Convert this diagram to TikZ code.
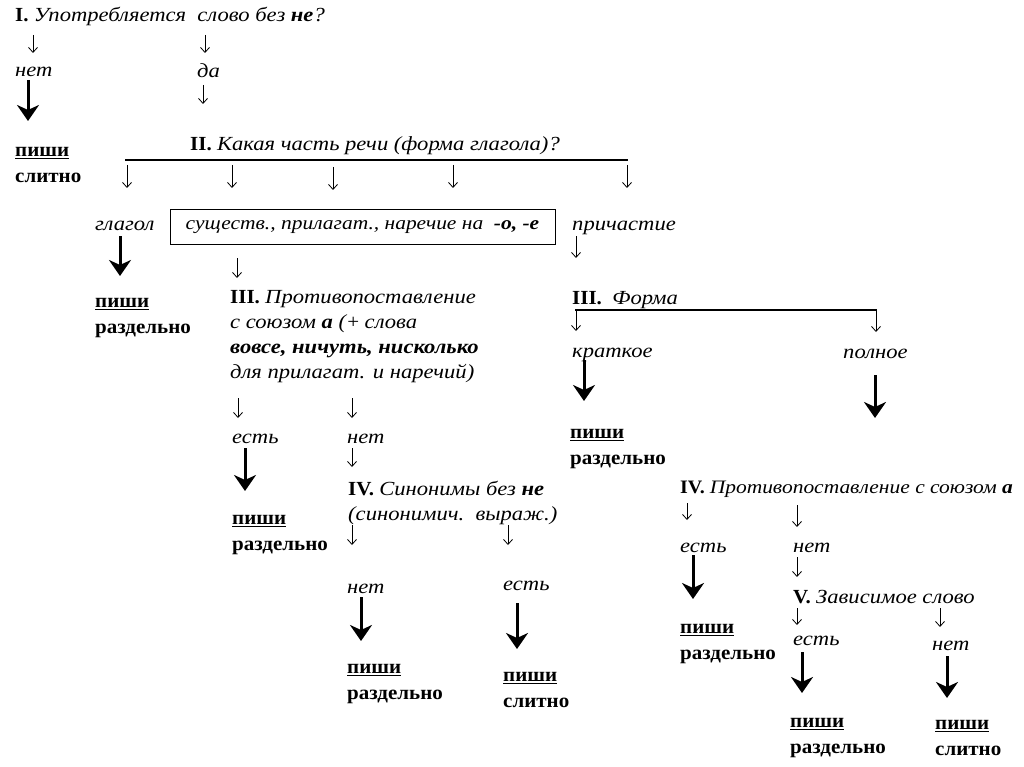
\documentclass[tikz,border=0pt]{standalone}
\usepackage{fontspec}
\setmainfont{Liberation Serif}[
  UprightFeatures={FakeStretch=1.05},
  BoldFeatures={FakeStretch=1.05},
  ItalicFeatures={FakeStretch=1.13},
  BoldItalicFeatures={FakeStretch=1.13}]
\usetikzlibrary{arrows.meta}
\newcommand\fsz{\fontsize{20}{25}\selectfont}
\begin{document}
\begin{tikzpicture}[x=1pt,y=-1pt,
 txt/.style={anchor=base west,inner sep=0pt,font=\fsz},
 itx/.style={txt,font=\fsz\itshape},
 verd/.style={anchor=north west,inner sep=0pt,align=left,font=\fontsize{20}{26}\selectfont\bfseries},
 multi/.style={anchor=north west,inner sep=0pt,align=left,font=\fontsize{20}{25}\selectfont},
 thinarr/.style={line width=0.8pt,-{Straight Barb[length=5pt,width=9pt]}},
 bigarr/.style={line width=3pt,-{Stealth[length=16pt,width=22pt,inset=5pt]}},
 hrule/.style={line width=1.2pt}]
\useasboundingbox[fill=white] (0,0) rectangle (1024,767);

% ---------- texts ----------
\node[txt] (q1) at (15,22) {\textbf{I.} \textit{Употребляется\ \ слово без \textbf{не}?}};
\node[itx] (net1) at (15,77) {нет};
\node[itx] (da) at (197,78) {да};
\node[verd] (v1) at (15,147) {\underline{пиши}\\слитно};
\node[txt] (q2) at (190,151) {\textbf{II.} \textit{Какая часть речи (форма глагола)?}};
\node[itx] (glagol) at (95,231) {глагол};
\node[draw,line width=1pt,minimum width=385pt,minimum height=34pt,inner sep=0pt,font=\fontsize{19}{25}\selectfont\itshape] (box) at (362.5,227) {существ., прилагат., наречие на\ \ \textbf{-о, -е}};
\node[itx] (prich) at (572,231) {причастие};
\node[verd] (v2) at (95,298) {\underline{пиши}\\раздельно};
\node[multi] (q3) at (230,290) {\textbf{III.} \textit{Противопоставление}\\
 \textit{с союзом \textbf{а} (}+\textit{ слова}\\
 \textit{\textbf{вовсе, ничуть, нисколько}}\\
 \textit{для прилагат. и наречий)}};
\node[txt] (q3f) at (572,304) {\textbf{III.}\ \ \textit{Форма}};
\node[itx] (krat) at (572,357) {краткое};
\node[itx] (poln) at (843,358) {полное};
\node[verd] (v3) at (570,429) {\underline{пиши}\\раздельно};
\node[itx] (est1) at (232,443) {есть};
\node[itx] (net2) at (347,443) {нет};
\node[multi] (q4) at (348,481) {\textbf{IV.}\ \textit{Синонимы без \textbf{не}}\\\textit{(синонимич.\ \ выраж.)}};
\node[verd] (v4) at (232,515) {\underline{пиши}\\раздельно};
\node[itx] (net3) at (347,593) {нет};
\node[itx] (est2) at (503,590) {есть};
\node[verd] (v5) at (347,664) {\underline{пиши}\\раздельно};
\node[verd] (v6) at (503,672) {\underline{пиши}\\слитно};
\node[txt,font=\fontsize{19}{25}\selectfont] (q4r) at (680,493) {\textbf{IV.} \textit{Противопоставление с союзом \textbf{а}}};
\node[itx] (est3) at (680,552) {есть};
\node[itx] (net4) at (793,552) {нет};
\node[txt] (q5) at (793,603) {\textbf{V.} \textit{Зависимое слово}};
\node[verd] (v7) at (680,624) {\underline{пиши}\\раздельно};
\node[itx] (est4) at (793,645) {есть};
\node[itx] (net5) at (932,650) {нет};
\node[verd] (v8) at (790,718) {\underline{пиши}\\раздельно};
\node[verd] (v9) at (935,720) {\underline{пиши}\\слитно};

% ---------- rules ----------
\coordinate (L1a) at (125,160); \coordinate (L1b) at (628,160);
\draw[hrule] (L1a) -- (L1b);
\coordinate (L2a) at (575,310); \coordinate (L2b) at (877,310);
\draw[hrule] (L2a) -- (L2b);

% ---------- thin arrows ----------
\foreach \n/\x/\ya/\yb in {a1/33/35/53, a2/205/35/53, a3/203/85/104,
  a4/127/165/188, a5/232/165/188, a6/333/167/190, a7/453/165/188, a8/627/165/188,
  a9/237/258/278, a10/576/236/258, a11/576/310/331, a12/876/310/332,
  a13/238/398/418, a14/352/398/418, a15/352/448/467,
  a16/352/525/545, a17/508/525/545,
  a18/687/503/520, a19/797/505/527, a20/797/557/577,
  a21/797/608/625, a22/940/608/627}{
  \coordinate (\n s) at (\x,\ya); \coordinate (\n e) at (\x,\yb);
  \draw[thinarr] (\n s) -- (\n e);
}

% ---------- thick arrows ----------
\foreach \n/\x/\ya/\yb in {t1/28/80/121, t2/120/236/276, t3/584/360/401, t4/875/375/418,
  t5/245/448/491, t6/361/597/641, t7/517/603/649, t8/693/555/599,
  t9/802/652/693, t10/947/656/698}{
  \coordinate (\n s) at (\x,\ya); \coordinate (\n e) at (\x,\yb);
  \draw[bigarr] (\n s) -- (\n e);
}
\end{tikzpicture}
\end{document}
